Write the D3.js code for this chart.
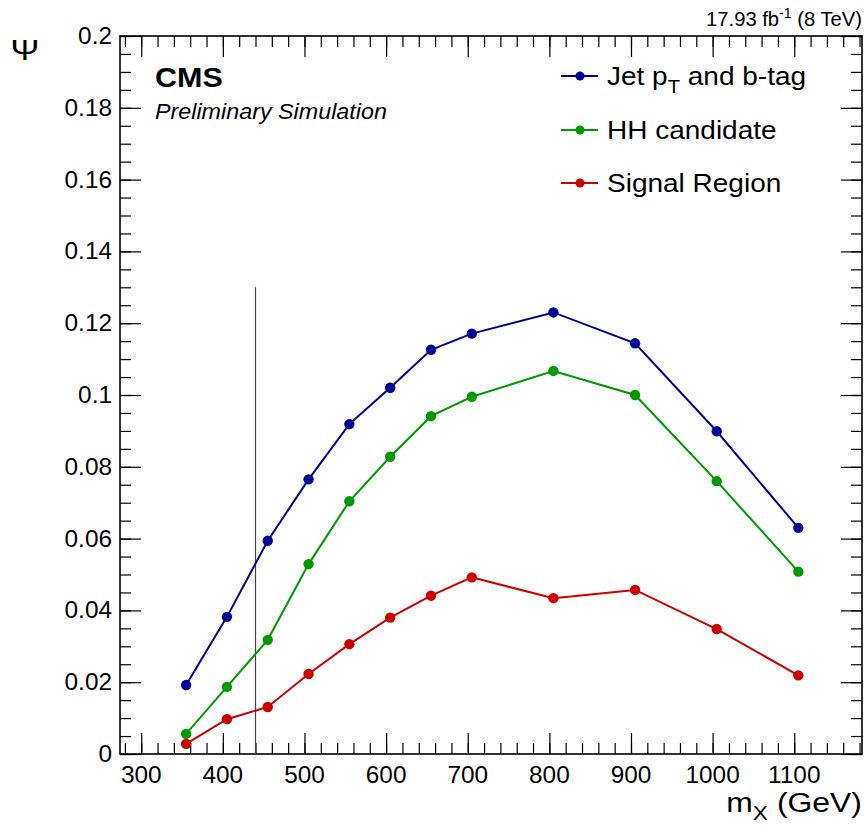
<!DOCTYPE html>
<html>
<head>
<meta charset="utf-8">
<script src="https://cdn.jsdelivr.net/npm/d3@7"></script>
<style>
body { margin:0; background:#fff; }
svg text { font-family: "Liberation Sans", Arial, sans-serif; fill:#000; }
</style>
</head>
<body>
<svg width="866" height="826"></svg>
<script>
var massPoints = [355,405,455,505,555,605,655,705,805,905,1005,1105]

var jetBtag = [0.0192,0.0382,0.0594,0.0765,0.0919,0.1020,0.1126,0.1171,0.1230,0.1144,0.0899,0.0630]
var hhCandidate = [0.0056,0.0187,0.0318,0.0529,0.0704,0.0828,0.0941,0.0995,0.1067,0.1000,0.0760,0.0508]
var signalRegion = [0.0028,0.0097,0.0131,0.0223,0.0306,0.0380,0.0441,0.0492,0.0434,0.0457,0.0348,0.0219]

var seriesNames = ["Jet p_T and b-tag","HH candidate","Signal Region"]
var seriesColors = ["#000099","#009900","#cc0000"]

var xTickValues = [300,400,500,600,700,800,900,1000,1100]
var yTickValues = [0,0.02,0.04,0.06,0.08,0.1,0.12,0.14,0.16,0.18,0.2]

var cutLine = {x:440, top:0.13}

var frame = {left:120,right:862,top:36,bottom:754}

var svg = d3.select("svg")

var xScale = d3.scaleLinear()
                .domain([274,1183])
                .range([frame.left,frame.right])

var yScale = d3.scaleLinear()
                .domain([0,0.2])
                .range([frame.bottom,frame.top])

// text is a bit wider than the font, stretch it horizontally
var addText = function(x,y,size,sx,anchor)
{
    return svg.append("g")
        .attr("transform","translate("+x+","+y+") scale("+sx+",1)")
        .append("text")
        .attr("text-anchor",anchor || "start")
        .attr("font-size",size)
}

// minor ticks
var xMinor = d3.range(280,1183,20)
var yMinor = d3.range(0,0.2001,0.005)

var drawTicks = function(axis,values,size,transform)
{
    svg.append("g")
        .attr("transform",transform)
        .call(axis.tickValues(values).tickSize(size).tickFormat(""))
        .call(function(g){ g.select(".domain").remove() })
        .selectAll("line").attr("stroke","#000").attr("stroke-width",1.2)
}

// inward ticks on all four sides
drawTicks(d3.axisTop(xScale),xMinor,11,"translate(0,"+frame.bottom+")")
drawTicks(d3.axisTop(xScale),xTickValues,21,"translate(0,"+frame.bottom+")")
drawTicks(d3.axisBottom(xScale),xMinor,11,"translate(0,"+frame.top+")")
drawTicks(d3.axisBottom(xScale),xTickValues,21,"translate(0,"+frame.top+")")
drawTicks(d3.axisRight(yScale),yMinor,11,"translate("+frame.left+",0)")
drawTicks(d3.axisRight(yScale),yTickValues,21,"translate("+frame.left+",0)")
drawTicks(d3.axisLeft(yScale),yMinor,11,"translate("+frame.right+",0)")
drawTicks(d3.axisLeft(yScale),yTickValues,21,"translate("+frame.right+",0)")

// frame
svg.append("rect")
    .attr("x",frame.left)
    .attr("y",frame.top)
    .attr("width",frame.right-frame.left)
    .attr("height",frame.bottom-frame.top)
    .attr("fill","none")
    .attr("stroke","#000")
    .attr("stroke-width",1.6)

// tick labels
xTickValues.forEach(function(d)
{
    addText(xScale(d),783,23,1.06,"middle").text(d)
})
yTickValues.forEach(function(d)
{
    addText(frame.left-8,yScale(d)+8,23,1.06,"end")
        .text(d===0 ? "0" : String(+d.toFixed(2)))
})

// vertical cut line
svg.append("line")
    .attr("x1",xScale(cutLine.x))
    .attr("x2",xScale(cutLine.x))
    .attr("y1",yScale(0))
    .attr("y2",yScale(cutLine.top))
    .attr("stroke","#444")
    .attr("stroke-width",1.2)

// series
var allSeries = [jetBtag,hhCandidate,signalRegion]
var line = d3.line()
            .x(function(d,i){ return xScale(massPoints[i]) })
            .y(function(d){ return yScale(d) })

allSeries.forEach(function(values,s)
{
    svg.append("path")
        .attr("d",line(values))
        .attr("fill","none")
        .attr("stroke",seriesColors[s])
        .attr("stroke-width",2)
    svg.append("g")
        .selectAll("circle")
        .data(values)
        .enter()
        .append("circle")
        .attr("cx",function(d,i){ return xScale(massPoints[i]) })
        .attr("cy",function(d){ return yScale(d) })
        .attr("r",5.2)
        .attr("fill",seriesColors[s])
})

// legend
var legendY = [76,130,183]
seriesNames.forEach(function(name,s)
{
    var g = svg.append("g").attr("transform","translate(0,"+legendY[s]+")")
    g.append("line").attr("x1",561).attr("x2",598).attr("y1",0).attr("y2",0)
        .attr("stroke",seriesColors[s]).attr("stroke-width",2)
    g.append("circle").attr("cx",580).attr("cy",0).attr("r",4.5).attr("fill",seriesColors[s])
    var t = addText(607,legendY[s]+9,25,1.12)
    if(s===0)
    {
        t.append("tspan").text("Jet p")
        t.append("tspan").attr("font-size",18).attr("dy",8).text("T")
        t.append("tspan").attr("dy",-8).text(" and b-tag")
    }
    else
    {
        t.text(name)
    }
})

// labels
addText(155,87,28,1.09).attr("font-weight","bold").text("CMS")
addText(155,119,22,1.06).attr("font-style","italic").text("Preliminary Simulation")

var lumi = addText(862,26,20,1.01,"end")
lumi.append("tspan").text("17.93 fb")
lumi.append("tspan").attr("font-size",14).attr("dy",-8).text("-1")
lumi.append("tspan").attr("dy",8).text(" (8 TeV)")

addText(25,60,30,1.15,"middle").text("Ψ")

var xTitle = addText(862,812,28,1.14,"end")
xTitle.append("tspan").text("m")
xTitle.append("tspan").attr("font-size",20).attr("dy",8).text("X")
xTitle.append("tspan").attr("dy",-8).text(" (GeV)")
</script>
</body>
</html>
